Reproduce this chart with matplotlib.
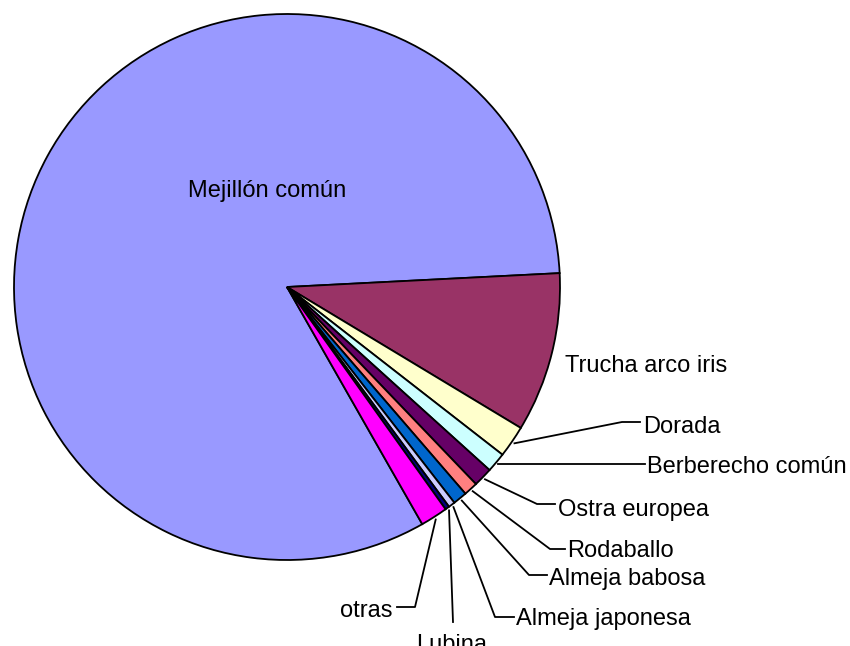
import numpy as np
import matplotlib.pyplot as plt

plt.rcParams['font.family'] = ['Liberation Sans', 'DejaVu Sans']

species = ['Mejillón común', 'Trucha arco iris', 'Dorada', 'Berberecho común',
           'Ostra europea', 'Rodaballo', 'Almeja babosa', 'Almeja japonesa',
           'Lubina', 'otras']
shares = [82.4, 9.44, 1.89, 1.17, 1.14, 0.83, 0.83, 0.39, 0.25, 1.61]
colors = ['#9999FF', '#993366', '#FFFFCC', '#CCFFFF', '#660066',
          '#FF8080', '#0066CC', '#CCCCFF', '#000080', '#FF00FF']

W, H = 850, 646


def Y(py):
    # pixel row -> data y (y axis points up)
    return H - py


fig = plt.figure(figsize=(W / 100, H / 100), dpi=100)
ax = fig.add_axes([0, 0, 1, 1])

cx, cy, r = 287, Y(287), 273
wedges, _ = ax.pie(shares, colors=colors, startangle=-60.3, counterclock=False,
                   center=(cx, cy), radius=r,
                   wedgeprops=dict(edgecolor='black', linewidth=1.3))
ax.set_xlim(0, W)
ax.set_ylim(0, H)
ax.set_aspect('equal')
ax.axis('off')

fs = 17
ax.text(267, Y(197), species[0], fontsize=fs, ha='center', va='baseline')
ax.text(565, Y(372), species[1], fontsize=fs, ha='left', va='baseline')

# label layout: (text x, baseline, ha, leader path after the wedge edge)
layout = {
    'Dorada': (643, 433, 'left', [(622, 422), (640, 422)]),
    'Berberecho común': (647, 473, 'left', [(645, 465)]),
    'Ostra europea': (558, 516, 'left', [(537, 504), (555, 504)]),
    'Rodaballo': (567, 557, 'left', [(550, 549), (565, 549)]),
    'Almeja babosa': (549, 585, 'left', [(529, 575), (547, 575)]),
    'Almeja japonesa': (516, 625, 'left', [(495, 617), (514, 617)]),
    'Lubina': (452, 651, 'center', [(453, 622)]),
    'otras': (393, 617, 'right', [(415, 607), (397, 607)]),
}

for w, name in zip(wedges, species):
    if name not in layout:
        continue
    tx, base, ha, path = layout[name]
    mid = np.deg2rad((w.theta1 + w.theta2) / 2)
    sx = cx + (r + 3) * np.cos(mid)
    sy = cy + (r + 3) * np.sin(mid)
    xs = [sx] + [p[0] for p in path]
    ys = [sy] + [Y(p[1]) for p in path]
    if name == 'Berberecho común':
        ys = [sy, sy]
    ax.plot(xs, ys, color='black', lw=1.3, clip_on=False)
    ax.text(tx, Y(base), name, fontsize=fs, ha=ha, va='baseline')

fig.savefig('out.png', dpi=100)
